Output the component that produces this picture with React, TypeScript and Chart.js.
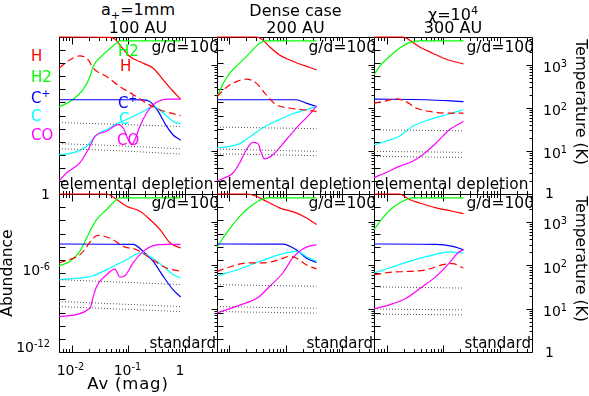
import React, { useEffect, useRef } from 'react';
import { Chart, registerables } from 'chart.js';
Chart.register(...registerables);

type P = [number, number][];

// ---------- axis ranges & ticks ----------
const X_MIN = 0.006;
const X_MAX = 3.7;
const AB_MIN = 1e-12;
const AB_MAX = 1;
const T_MIN = 1;
const T_MAX = 4470;
const X_MAJOR = [0.01, 0.1, 1];
const X_MINOR = [0.006, 0.007, 0.008, 0.009, 0.02, 0.03, 0.04, 0.05, 0.06, 0.07, 0.08, 0.09, 0.2, 0.3, 0.4, 0.5, 0.6, 0.7, 0.8, 0.9, 2, 3];
const AB_TICKS = [1, 1e-1, 1e-2, 1e-3, 1e-4, 1e-5, 1e-6, 1e-7, 1e-8, 1e-9, 1e-10, 1e-11, 1e-12];
const T_MAJOR = [10, 100, 1000];
const T_MINOR = [2, 3, 4, 5, 6, 7, 8, 9, 20, 30, 40, 50, 60, 70, 80, 90, 200, 300, 400, 500, 600, 700, 800, 900, 2000, 3000, 4000];

// ---------- top-left: a+=1mm, 100 AU, elemental depletion ----------
const TL_H: P = [[0.006, 1], [0.0475, 0.95], [0.058, 0.7], [0.0714, 0.25], [0.107, 0.032], [0.184, 0.01], [0.277, 0.0041], [0.416, 5.2e-4], [0.624, 6.8e-5], [0.843, 1.8e-5]];
const TL_H2: P = [[0.006, 4.4e-6], [0.0105, 1.6e-5], [0.0158, 9.1e-5], [0.0211, 8.9e-4], [0.0238, 0.0051], [0.0358, 0.043], [0.0632, 0.35], [0.0714, 0.5], [0.843, 0.5]];
const TL_CP: P = [[0.006, 1.6e-5], [0.12, 1.6e-5], [0.18, 1.55e-5], [0.242, 1.15e-5], [0.323, 2.8e-6], [0.483, 1.4e-7], [0.617, 3.4e-8], [0.843, 1.3e-8]];
const TL_C: P = [[0.006, 1e-9], [0.0107, 1.4e-9], [0.0184, 4.4e-9], [0.0277, 3.4e-8], [0.0416, 8.1e-8], [0.0625, 2.3e-7], [0.107, 6.5e-7], [0.184, 2.0e-6], [0.277, 4.9e-6], [0.416, 1.55e-6], [0.624, 3.5e-7], [0.843, 2.3e-7]];
const TL_CO: P = [[0.006, 1e-11], [0.0082, 4.2e-11], [0.014, 2.4e-10], [0.0211, 4.4e-9], [0.0258, 2.5e-8], [0.0416, 6.2e-8], [0.0667, 2.0e-7], [0.0817, 1.1e-7], [0.1, 1.4e-8], [0.115, 5.9e-9], [0.131, 1.4e-8], [0.161, 1.5e-7], [0.211, 1.55e-6], [0.277, 6.6e-6], [0.364, 1.4e-5], [0.546, 1.8e-5], [0.843, 1.8e-5]];
const TL_TG: P = [[0.006, 841], [0.0093, 1310], [0.014, 1620], [0.0197, 1320], [0.0241, 841], [0.0416, 537], [0.0714, 316], [0.123, 204], [0.211, 129], [0.364, 91], [0.843, 66]];
const TL_D1: P = [[0.006, 46], [0.07, 41.5], [0.843, 37]];
const TL_D2: P = [[0.006, 14.8], [0.07, 13.2], [0.843, 11.2]];
const TL_D3: P = [[0.006, 11.4], [0.07, 10.1], [0.843, 8.5]];

// ---------- top-middle: dense case, 200 AU ----------
const TM_H: P = [[0.006, 1], [0.03, 1], [0.0393, 0.59], [0.0515, 0.18], [0.0774, 0.043], [0.116, 0.018], [0.175, 0.0087], [0.262, 0.0049], [0.353, 0.0031]];
const TM_H2: P = [[0.006, 2.8e-5], [0.0078, 3.0e-4], [0.0101, 0.0017], [0.0152, 0.01], [0.0229, 0.058], [0.0344, 0.33], [0.045, 0.5], [0.353, 0.5]];
const TM_CP: P = [[0.006, 1.6e-5], [0.153, 1.6e-5], [0.23, 8.9e-6], [0.353, 4.9e-6]];
const TM_C: P = [[0.006, 3.3e-9], [0.0101, 4.4e-9], [0.0152, 7.1e-9], [0.0261, 3.4e-8], [0.045, 1.66e-7], [0.0774, 4.8e-7], [0.133, 1.35e-6], [0.23, 2.75e-6], [0.353, 4.9e-6]];
const TM_CO: P = [[0.006, 1e-11], [0.0116, 4.2e-11], [0.0152, 2.4e-10], [0.02, 2.5e-9], [0.0261, 8.9e-9], [0.032, 7.1e-9], [0.0368, 1.4e-9], [0.042, 4.8e-10], [0.059, 1.0e-9], [0.102, 1.4e-8], [0.175, 2.0e-7], [0.262, 1.15e-6], [0.353, 5.5e-6]];
const TM_TG: P = [[0.006, 185], [0.0089, 305], [0.0133, 411], [0.02, 468], [0.03, 378], [0.045, 202], [0.0676, 119], [0.116, 100], [0.2, 91], [0.353, 83]];
const TM_D1: P = [[0.006, 36], [0.353, 33]];
const TM_D2: P = [[0.006, 11.1], [0.353, 9.8]];
const TM_D3: P = [[0.006, 8.6], [0.353, 7.8]];

// ---------- top-right: chi=1e4, 300 AU ----------
const TR_H: P = [[0.006, 1], [0.0193, 1], [0.0253, 0.59], [0.038, 0.18], [0.0653, 0.058], [0.113, 0.02], [0.228, 0.0087]];
const TR_H2: P = [[0.006, 0.0013], [0.0075, 0.0054], [0.0112, 0.032], [0.0168, 0.14], [0.0253, 0.37], [0.038, 0.5], [0.228, 0.5]];
const TR_CP: P = [[0.006, 1.8e-5], [0.05, 1.6e-5], [0.228, 1.15e-5]];
const TR_C: P = [[0.006, 5.9e-9], [0.0098, 1.07e-8], [0.0168, 2.6e-8], [0.029, 1.5e-7], [0.0571, 4.8e-7], [0.113, 1.15e-6], [0.228, 2.75e-6]];
const TR_CO: P = [[0.006, 1.8e-11], [0.0098, 4.4e-11], [0.0168, 1.3e-10], [0.029, 3.2e-10], [0.0435, 1.0e-9], [0.075, 7.9e-9], [0.129, 8.1e-8], [0.228, 3.5e-7]];
const TR_TG: P = [[0.006, 130], [0.0086, 141], [0.0147, 163], [0.0221, 141], [0.0332, 100], [0.0571, 83], [0.113, 76], [0.228, 76]];
const TR_D1: P = [[0.006, 31], [0.228, 29.5]];
const TR_D2: P = [[0.006, 9.8], [0.228, 9.3]];
const TR_D3: P = [[0.006, 7.5], [0.228, 7.1]];

// ---------- bottom-left: standard ----------
const BL_H: P = [[0.006, 1], [0.0416, 1], [0.0625, 0.38], [0.0938, 0.117], [0.161, 0.049], [0.242, 0.0115], [0.364, 0.002], [0.55, 1.9e-4], [0.843, 7.9e-5]];
const BL_H2: P = [[0.006, 3.5e-6], [0.0093, 7.6e-6], [0.014, 4.4e-5], [0.0211, 0.0015], [0.0277, 0.0115], [0.0416, 0.066], [0.0625, 0.38], [0.0714, 0.5], [0.843, 0.5]];
const BL_CP: P = [[0.006, 1.6e-4], [0.122, 1.5e-4], [0.184, 4.4e-5], [0.277, 7.6e-6], [0.416, 5.5e-7], [0.624, 5.2e-8], [0.843, 1.5e-8]];
const BL_C: P = [[0.006, 3.1e-7], [0.0241, 6.2e-7], [0.0475, 2.4e-6], [0.0938, 1.0e-5], [0.161, 3.3e-5], [0.242, 1.8e-5], [0.416, 3.2e-6], [0.624, 7.4e-7], [0.843, 4.2e-7]];
const BL_CO: P = [[0.006, 4.9e-10], [0.0211, 2.1e-9], [0.0241, 1.6e-8], [0.0277, 9.5e-8], [0.0416, 7.4e-7], [0.0582, 2.0e-6], [0.0714, 4.9e-7], [0.0875, 6.2e-7], [0.122, 5.8e-6], [0.184, 4.4e-5], [0.277, 1.2e-4], [0.477, 1.5e-4], [0.843, 1.5e-4]];
const BL_TG: P = [[0.006, 114], [0.014, 177], [0.0295, 495], [0.0543, 394], [0.0817, 275], [0.141, 231], [0.242, 148], [0.477, 87], [0.843, 73]];
const BL_D1: P = [[0.006, 47], [0.843, 36]];
const BL_D2: P = [[0.006, 14.7], [0.843, 11.2]];
const BL_D3: P = [[0.006, 11.2], [0.843, 8.6]];

// ---------- bottom-middle ----------
const BM_H: P = [[0.006, 1], [0.02, 1], [0.03, 0.68], [0.045, 0.28], [0.0774, 0.089], [0.153, 0.037], [0.23, 0.0155], [0.353, 0.0048]];
const BM_H2: P = [[0.006, 9.5e-5], [0.0089, 0.0011], [0.0152, 0.02], [0.0261, 0.16], [0.0393, 0.43], [0.0515, 0.5], [0.353, 0.5]];
const BM_CP: P = [[0.006, 1.6e-4], [0.0885, 1.55e-4], [0.153, 5.9e-5], [0.23, 1.4e-5], [0.353, 6.3e-6]];
const BM_C: P = [[0.006, 6.2e-7], [0.0152, 2.0e-6], [0.0344, 7.6e-6], [0.0774, 2.5e-5], [0.153, 4.4e-5], [0.23, 1.8e-5], [0.353, 7.6e-6]];
const BM_CO: P = [[0.006, 9.3e-10], [0.0152, 3.6e-9], [0.032, 1.35e-8], [0.0515, 9.5e-8], [0.0885, 1.0e-6], [0.133, 1.4e-5], [0.2, 6.6e-5], [0.281, 1.2e-4], [0.353, 1.35e-4]];
const BM_TG: P = [[0.006, 73], [0.0101, 92], [0.02, 114], [0.0393, 114], [0.0774, 136], [0.116, 162], [0.153, 148], [0.23, 104], [0.353, 83]];
const BM_D1: P = [[0.006, 36], [0.353, 33]];
const BM_D2: P = [[0.006, 11.2], [0.353, 10.2]];
const BM_D3: P = [[0.006, 8.6], [0.353, 7.9]];

// ---------- bottom-right ----------
const BR_H: P = [[0.006, 1], [0.0168, 1], [0.0253, 0.38], [0.038, 0.21], [0.0748, 0.089], [0.147, 0.049], [0.228, 0.032]];
const BR_H2: P = [[0.006, 0.002], [0.0086, 0.0155], [0.0128, 0.089], [0.0193, 0.28], [0.029, 0.5], [0.228, 0.5]];
const BR_CP: P = [[0.006, 1.6e-4], [0.075, 1.5e-4], [0.147, 1.05e-4], [0.228, 5.9e-5]];
const BR_C: P = [[0.006, 1e-6], [0.0112, 2.4e-6], [0.0253, 7.6e-6], [0.0571, 2.0e-5], [0.129, 4.0e-5], [0.228, 3.3e-5]];
const BR_CO: P = [[0.006, 1.9e-9], [0.0112, 3.8e-9], [0.0221, 1.2e-8], [0.0435, 9.5e-8], [0.075, 5.5e-7], [0.129, 5.8e-6], [0.181, 3.3e-5], [0.228, 5.9e-5]];
const BR_TG: P = [[0.006, 61], [0.0112, 69], [0.0253, 73], [0.0499, 79], [0.098, 104], [0.147, 110], [0.228, 87]];
const BR_D1: P = [[0.006, 32], [0.228, 30]];
const BR_D2: P = [[0.006, 9.8], [0.228, 9.4]];
const BR_D3: P = [[0.006, 7.5], [0.228, 7.2]];

type Spec = { id: string; left: number; top: number; w: number; h: number; H: P; H2: P; CP: P; C: P; CO: P; TG: P; D: P[] };

const PANELS: Spec[] = [
  { id: 'TL', left: 59, top: 37, w: 158, h: 157, H: TL_H, H2: TL_H2, CP: TL_CP, C: TL_C, CO: TL_CO, TG: TL_TG, D: [TL_D1, TL_D2, TL_D3] },
  { id: 'TM', left: 217, top: 37, w: 157, h: 157, H: TM_H, H2: TM_H2, CP: TM_CP, C: TM_C, CO: TM_CO, TG: TM_TG, D: [TM_D1, TM_D2, TM_D3] },
  { id: 'TR', left: 374, top: 37, w: 158, h: 157, H: TR_H, H2: TR_H2, CP: TR_CP, C: TR_C, CO: TR_CO, TG: TR_TG, D: [TR_D1, TR_D2, TR_D3] },
  { id: 'BL', left: 59, top: 194, w: 158, h: 158, H: BL_H, H2: BL_H2, CP: BL_CP, C: BL_C, CO: BL_CO, TG: BL_TG, D: [BL_D1, BL_D2, BL_D3] },
  { id: 'BM', left: 217, top: 194, w: 157, h: 158, H: BM_H, H2: BM_H2, CP: BM_CP, C: BM_C, CO: BM_CO, TG: BM_TG, D: [BM_D1, BM_D2, BM_D3] },
  { id: 'BR', left: 374, top: 194, w: 158, h: 158, H: BR_H, H2: BR_H2, CP: BR_CP, C: BR_C, CO: BR_CO, TG: BR_TG, D: [BR_D1, BR_D2, BR_D3] },
];

const PAD = 8;

const framePlugin = {
  id: 'frame',
  beforeDatasetsDraw(chart: any) {
    const { ctx, chartArea: a, scales } = chart;
    const L = Math.round(a.left) + 0.5;
    const R = Math.round(a.right) + 0.5;
    const T = Math.round(a.top) + 0.5;
    const B = Math.round(a.bottom) + 0.5;
    ctx.save();
    ctx.strokeStyle = '#000';
    ctx.lineWidth = 1;
    ctx.beginPath();
    ctx.rect(L, T, R - L, B - T);
    const xt = (v: number, len: number) => {
      const p = Math.round(scales.x.getPixelForValue(v)) + 0.5;
      if (p < L || p > R) return;
      ctx.moveTo(p, B); ctx.lineTo(p, B - len);
      ctx.moveTo(p, T); ctx.lineTo(p, T + len);
    };
    X_MAJOR.forEach((v) => xt(v, 7));
    X_MINOR.forEach((v) => xt(v, 3.5));
    AB_TICKS.forEach((v) => {
      const p = Math.round(scales.y.getPixelForValue(v)) + 0.5;
      ctx.moveTo(L, p); ctx.lineTo(L + 6, p);
    });
    const tt = (v: number, len: number) => {
      const p = Math.round(scales.t.getPixelForValue(v)) + 0.5;
      if (p < T || p > B) return;
      ctx.moveTo(R, p); ctx.lineTo(R - len, p);
    };
    T_MAJOR.forEach((v) => tt(v, 6));
    T_MINOR.forEach((v) => tt(v, 3));
    ctx.stroke();
    ctx.restore();
  },
};

function Panel({ spec }: { spec: Spec }) {
  const ref = useRef<HTMLCanvasElement>(null);
  useEffect(() => {
    const line = (pts: P, color: string, axis: string, dash: number[] = [], width = 1.2) => ({
      data: pts.map(([x, y]) => ({ x, y })),
      borderColor: color,
      borderWidth: width,
      borderDash: dash,
      yAxisID: axis,
      pointRadius: 0,
      fill: false,
      cubicInterpolationMode: 'monotone',
      clip: 4,
    });
    const chart = new Chart(ref.current as HTMLCanvasElement, {
      type: 'line',
      data: {
        datasets: [
          ...spec.D.map((d) => line(d, '#555', 't', [1, 2], 1)),
          line(spec.TG, '#ff0000', 't', [7, 4]),
          line(spec.CO, '#ff00ff', 'y'),
          line(spec.C, '#00ffff', 'y'),
          line(spec.CP, '#0000ff', 'y'),
          line(spec.H2, '#00ff00', 'y'),
          line(spec.H, '#ff0000', 'y'),
        ] as any,
      },
      options: {
        animation: false,
        responsive: false,
        devicePixelRatio: 1,
        events: [],
        layout: { padding: PAD },
        plugins: { legend: { display: false }, tooltip: { enabled: false } },
        scales: {
          x: { type: 'logarithmic', min: X_MIN, max: X_MAX, display: false },
          y: { type: 'logarithmic', min: AB_MIN, max: AB_MAX, display: false },
          t: { type: 'logarithmic', min: T_MIN, max: T_MAX, display: false, position: 'right' },
        },
      } as any,
      plugins: [framePlugin],
    });
    return () => chart.destroy();
  }, [spec]);
  const W = spec.w + 2 * PAD;
  const Hh = spec.h + 2 * PAD;
  return (
    <canvas
      ref={ref}
      width={W}
      height={Hh}
      style={{ position: 'absolute', left: spec.left - PAD, top: spec.top - PAD, width: W, height: Hh }}
    />
  );
}

type TP = { x: number; y: number; children: React.ReactNode; color?: string; size?: number; align?: 'left' | 'center' | 'right'; rot?: number; ls?: number };
function Txt({ x, y, children, color = '#000', size = 15, align = 'left', rot = 0, ls = 0 }: TP) {
  const tx = rot ? '-50%' : align === 'left' ? '0' : align === 'center' ? '-50%' : '-100%';
  return (
    <div
      style={{
        position: 'absolute', left: x, top: y, whiteSpace: 'nowrap', fontSize: size, lineHeight: 1, color,
        letterSpacing: ls, transform: `translate(${tx},-50%)${rot ? ` rotate(${rot}deg)` : ''}`,
      }}
    >
      {children}
    </div>
  );
}
const Sup = ({ children }: { children: React.ReactNode }) => (
  <span style={{ fontSize: '0.7em', position: 'relative', top: '-0.55em', lineHeight: 0 }}>{children}</span>
);
const Sub = ({ children }: { children: React.ReactNode }) => (
  <span style={{ fontSize: '0.7em', position: 'relative', top: '0.35em', lineHeight: 0 }}>{children}</span>
);

const TOP_RIGHTS = [217, 374, 532];
const LEFTS = [59, 217, 374];

export default function App() {
  return (
    <div style={{ position: 'fixed', left: 0, top: 0, width: 589, height: 396, background: '#fff', overflow: 'hidden', fontFamily: "'DejaVu Sans', sans-serif", color: '#000' }}>
      {PANELS.map((p) => <Panel key={p.id} spec={p} />)}

      <Txt x={138} y={10} align="center" size={16}>a<Sub>+</Sub>=1mm</Txt>
      <Txt x={138} y={27.5} align="center" size={16}>100 AU</Txt>
      <Txt x={295.5} y={11} align="center" size={16}>Dense case</Txt>
      <Txt x={295.5} y={27.5} align="center" size={16}>200 AU</Txt>
      <Txt x={453} y={15} align="center" size={16}>χ=10<Sup>4</Sup></Txt>
      <Txt x={453} y={27.5} align="center" size={16}>300 AU</Txt>

      <Txt x={31} y={56} color="#ff0000" size={15}>H</Txt>
      <Txt x={31} y={77} color="#00ff00" size={15}>H2</Txt>
      <Txt x={31} y={97.5} color="#0000ff" size={15}>C<Sup>+</Sup></Txt>
      <Txt x={31} y={116} color="#00ffff" size={15}>C</Txt>
      <Txt x={31} y={135} color="#ff00ff" size={15}>CO</Txt>

      <Txt x={118} y={51} color="#00ff00" size={15}>H2</Txt>
      <Txt x={120} y={66} color="#ff0000" size={15}>H</Txt>
      <Txt x={118} y={102.5} color="#0000ff" size={15}>C<Sup>+</Sup></Txt>
      <Txt x={119} y={119} color="#00ffff" size={15}>C</Txt>
      <Txt x={117} y={140} color="#ff00ff" size={15}>CO</Txt>

      {TOP_RIGHTS.map((r) => <Txt key={'g1' + r} x={r + 2} y={48} align="right" size={15.5}>g/d=100</Txt>)}
      {TOP_RIGHTS.map((r) => <Txt key={'g2' + r} x={r + 2} y={204} align="right" size={15.5}>g/d=100</Txt>)}
      {LEFTS.map((l) => <Txt key={'e' + l} x={l + 1} y={185} size={15.3}>elemental depletion</Txt>)}
      {TOP_RIGHTS.map((r) => <Txt key={'s' + r} x={r - 1} y={343} align="right" size={15}>standard</Txt>)}

      <Txt x={543} y={67} size={14}>10<Sup>3</Sup></Txt>
      <Txt x={543} y={110} size={14}>10<Sup>2</Sup></Txt>
      <Txt x={543} y={153} size={14}>10<Sup>1</Sup></Txt>
      <Txt x={545} y={193} size={14}>1</Txt>
      <Txt x={543} y={224} size={14}>10<Sup>3</Sup></Txt>
      <Txt x={543} y={267.5} size={14}>10<Sup>2</Sup></Txt>
      <Txt x={543} y={311} size={14}>10<Sup>1</Sup></Txt>
      <Txt x={545} y={352} size={14}>1</Txt>

      <Txt x={50} y={194} align="right" size={14}>1</Txt>
      <Txt x={50} y={270} align="right" size={14}>10<Sup>-6</Sup></Txt>
      <Txt x={50} y={347} align="right" size={14}>10<Sup>-12</Sup></Txt>

      <Txt x={70.5} y={370} align="center" size={14}>10<Sup>-2</Sup></Txt>
      <Txt x={127.5} y={370} align="center" size={14}>10<Sup>-1</Sup></Txt>
      <Txt x={180} y={370} align="center" size={14}>1</Txt>
      <Txt x={128} y={384} align="center" size={16.5} ls={0.8}>Av (mag)</Txt>

      <Txt x={8} y={273} rot={-90} size={15.5}>Abundance</Txt>
      <Txt x={580} y={102} rot={90} size={15.5}>Temperature (K)</Txt>
      <Txt x={580} y={259} rot={90} size={15.5}>Temperature (K)</Txt>
    </div>
  );
}
